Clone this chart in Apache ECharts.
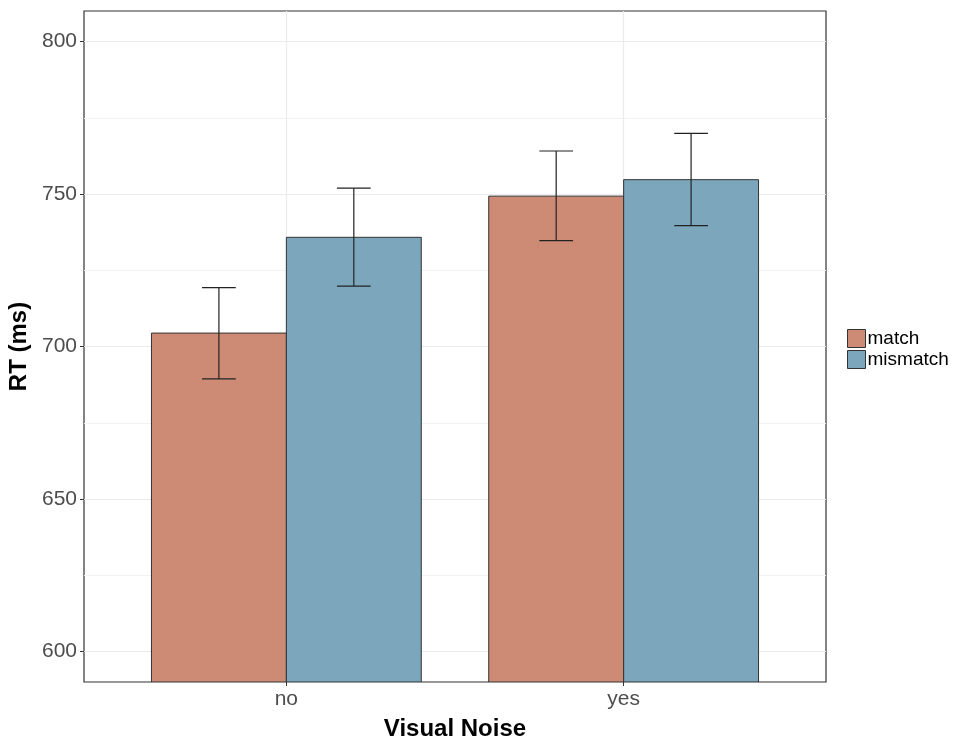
<!DOCTYPE html>
<html><head><meta charset="utf-8">
<script src="https://cdn.jsdelivr.net/npm/echarts@6/dist/echarts.min.js"></script>
<style>html,body{margin:0;padding:0;background:#fff}#c{width:954px;height:738px}</style>
</head><body><div id="c"></div>
<script>
const categories = ['no', 'yes'];
const groups = ['match', 'mismatch'];
const matchMean = [704.4, 749.3];
const matchLow = [689.4, 734.7];
const matchHigh = [719.3, 764.1];
const mismatchMean = [735.8, 754.7];
const mismatchLow = [719.8, 739.6];
const mismatchHigh = [751.9, 769.9];
const yTicks = [600, 650, 700, 750, 800];
const yMinorTicks = [625, 675, 725, 775];
const colors = ['#CD8B75', '#7BA6BC'];

const Y_MIN = 590, Y_MAX = 810;
const FONT = 'Liberation Sans, Arial, sans-serif';

function makeData(means, lows, highs) {
  return means.map((m, i) => [i + 1, m, lows[i], highs[i]]);
}
function makeRender(offset) {
  return function (params, api) {
    const x = api.value(0) + offset;
    const v = api.value(1), lo = api.value(2), hi = api.value(3);
    const p1 = api.coord([x - 0.2, v]);
    const p2 = api.coord([x + 0.2, Y_MIN]);
    const top = api.coord([x, hi]);
    const bot = api.coord([x, lo]);
    const capL = api.coord([x - 0.05, hi])[0];
    const capR = api.coord([x + 0.05, hi])[0];
    return {
      type: 'group',
      children: [
        { type: 'rect', shape: { x: p1[0], y: p1[1], width: p2[0] - p1[0], height: p2[1] - p1[1] },
          style: { fill: api.visual('color'), stroke: '#333333', lineWidth: 1 } },
        { type: 'line', shape: { x1: top[0], y1: top[1], x2: bot[0], y2: bot[1] }, style: { stroke: '#222', lineWidth: 1.2 } },
        { type: 'line', shape: { x1: capL, y1: top[1], x2: capR, y2: top[1] }, style: { stroke: '#222', lineWidth: 1.2 } },
        { type: 'line', shape: { x1: capL, y1: bot[1], x2: capR, y2: bot[1] }, style: { stroke: '#222', lineWidth: 1.2 } }
      ]
    };
  };
}

const gridLines = [];
yMinorTicks.forEach(v => gridLines.push({ yAxis: v, lineStyle: { color: '#F2F2F2', width: 1, type: 'solid' } }));
yTicks.forEach(v => gridLines.push({ yAxis: v, lineStyle: { color: '#EBEBEB', width: 1.2, type: 'solid' } }));
categories.forEach((c, i) => gridLines.push({ xAxis: i + 1, lineStyle: { color: '#EBEBEB', width: 1.2, type: 'solid' } }));

const chart = echarts.init(document.getElementById('c'));
chart.setOption({
  animation: false,
  backgroundColor: '#fff',
  textStyle: { fontFamily: FONT },
  grid: { left: 84, right: 128, top: 11, bottom: 56, show: true, borderColor: '#333333', borderWidth: 1.2,
          backgroundColor: 'transparent', containLabel: false, outerBoundsMode: 'none' },
  legend: {
    orient: 'vertical', left: 847, top: 329, itemWidth: 18, itemHeight: 18, itemGap: 2, padding: 0,
    icon: 'rect',
    data: groups.map((g, i) => ({ name: g, itemStyle: { color: colors[i], borderColor: '#333', borderWidth: 1 } })),
    textStyle: { fontSize: 19, color: '#000', fontFamily: FONT, padding: [0, 0, 0, -3] }
  },
  xAxis: {
    type: 'value', min: 0.4, max: 2.6,
    splitLine: { show: false },
    axisLine: { show: false },
    axisTick: { show: true, length: 4, lineStyle: { color: '#333' }, customValues: [1, 2] },
    axisLabel: { customValues: [1, 2], formatter: v => categories[Math.round(v) - 1] || '', fontSize: 21, color: '#4D4D4D', margin: 7, fontFamily: FONT },
    name: 'Visual Noise', nameLocation: 'middle', nameGap: 35,
    nameTextStyle: { fontSize: 24, fontWeight: 'bold', color: '#000', fontFamily: FONT, verticalAlign: 'top' }
  },
  yAxis: {
    type: 'value', min: Y_MIN, max: Y_MAX,
    splitLine: { show: false },
    axisLine: { show: false },
    axisTick: { show: true, length: 4, lineStyle: { color: '#333' }, customValues: yTicks },
    axisLabel: { customValues: yTicks, fontSize: 21, color: '#4D4D4D', margin: 7, fontFamily: FONT },
    name: 'RT (ms)', nameLocation: 'middle', nameGap: 48, nameRotate: 90,
    nameTextStyle: { fontSize: 24, fontWeight: 'bold', color: '#000', fontFamily: FONT }
  },
  series: [
    { type: 'line', data: [], silent: true, z: 1,
      markLine: { silent: true, symbol: 'none', label: { show: false }, data: gridLines, animation: false } },
    { name: 'match', type: 'custom', z: 5, clip: true, itemStyle: { color: colors[0] },
      renderItem: makeRender(-0.2), data: makeData(matchMean, matchLow, matchHigh), encode: { x: 0, y: [1, 2, 3] } },
    { name: 'mismatch', type: 'custom', z: 5, clip: true, itemStyle: { color: colors[1] },
      renderItem: makeRender(0.2), data: makeData(mismatchMean, mismatchLow, mismatchHigh), encode: { x: 0, y: [1, 2, 3] } }
  ]
});
</script></body></html>
